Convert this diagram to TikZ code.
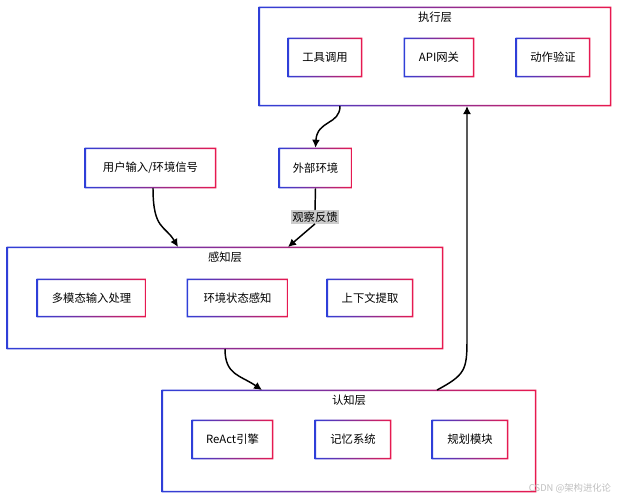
\documentclass[tikz,border=0pt]{standalone}
\usepackage{fontspec}
\setmainfont{Noto Sans CJK SC}
\usetikzlibrary{arrows.meta}
\usetikzlibrary{calc}
\definecolor{gblue}{HTML}{2F3FD8}
\definecolor{gred}{HTML}{E8194F}

\begin{document}
\begin{tikzpicture}[x=0.75pt,y=-0.75pt,
  box/.style={inner sep=0pt,font=\fontsize{8.5}{10}\selectfont},
  ttl/.style={font=\fontsize{8.5}{10}\selectfont,below=0pt},
  link/.style={black,line width=1.1pt,-{Latex[length=6pt,width=6pt]}}]
  \useasboundingbox (0,0) rectangle (628,500);
%% layers
  \node[box,minimum width=264pt,minimum height=74.25pt] (exec) at (435,56.5) {};
  \node[box,minimum width=327pt,minimum height=76.5pt] (perc) at (225,298) {};
  \node[box,minimum width=280.5pt,minimum height=76.5pt] (cogn) at (349,441) {};
  \node[ttl] at ($(exec.north)+(0,0.5)$) {执行层};
  \node[ttl] at ($(perc.north)+(0,0.5)$) {感知层};
  \node[ttl] at ($(cogn.north)+(0,0.5)$) {认知层};
%% modules
  \node[box,minimum width=55.5pt,minimum height=29.25pt] (tool) at (325,57.5) {工具调用};
  \node[box,minimum width=52.5pt,minimum height=29.25pt] (api) at (439,57.5) {API网关};
  \node[box,minimum width=55.5pt,minimum height=29.25pt] (check) at (553,57.5) {动作验证};
  \node[box,minimum width=98.25pt,minimum height=30pt] (user) at (150.5,168) {用户输入/环境信号};
  \node[box,minimum width=54.75pt,minimum height=30pt] (env) at (315.5,168) {外部环境};
  \node[box,minimum width=81.75pt,minimum height=28.5pt] (multi) at (91.5,298) {多模态输入处理};
  \node[box,minimum width=75.75pt,minimum height=28.5pt] (state) at (237.5,298) {环境状态感知};
  \node[box,minimum width=64.5pt,minimum height=28.5pt] (ctx) at (370,298) {上下文提取};
  \node[box,minimum width=60.75pt,minimum height=29.25pt] (react) at (232.5,439.5) {ReAct引擎};
  \node[box,minimum width=57pt,minimum height=29.25pt] (mem) at (353,439.5) {记忆系统};
  \node[box,minimum width=57pt,minimum height=29.25pt] (plan) at (470,439.5) {规划模块};
%% gradient borders
  \foreach \n in {exec,perc,cogn,tool,api,check,user,env,multi,state,ctx,react,mem,plan}
    \shade[left color=gblue,right color=gred,even odd rule]
      (\n.south west) rectangle (\n.north east)
      ($(\n.south west)+(1.4,-1.4)$) rectangle ($(\n.north east)+(-1.4,1.4)$);
%% connectors
  \node[fill=black!20,inner sep=1pt,font=\fontsize{8.5}{10}\selectfont] (obs) at (315,217) {观察反馈};
  \coordinate (e1) at (340,106);
  \coordinate (u1) at (153,188);
  \coordinate (p1) at (178,247);
  \coordinate (p2) at (288,247);
  \coordinate (p3) at (225,349);
  \coordinate (c1) at (262,390);
  \coordinate (c2) at (437,390);
  \coordinate (e2) at (467,106);
  \draw[link] (e1) .. controls (340,125) and (317,120) .. (env.north);
  \draw[link] (u1) .. controls (153,230) and (165,225) .. (p1);
  \draw[line width=1.1pt] (env.south) -- (obs.north);
  \draw[link] (obs.south) -- (p2);
  \draw[link] (p3) .. controls (225,375) and (240,375) .. (c1);
  \draw[link] (c2) .. controls (465,375) and (467,370) .. (467,340) -- (e2);
  \node[text=black!25,font=\fontsize{7}{8}\selectfont] (mark) at (570,488) {CSDN @架构进化论};
\end{tikzpicture}
\end{document}
